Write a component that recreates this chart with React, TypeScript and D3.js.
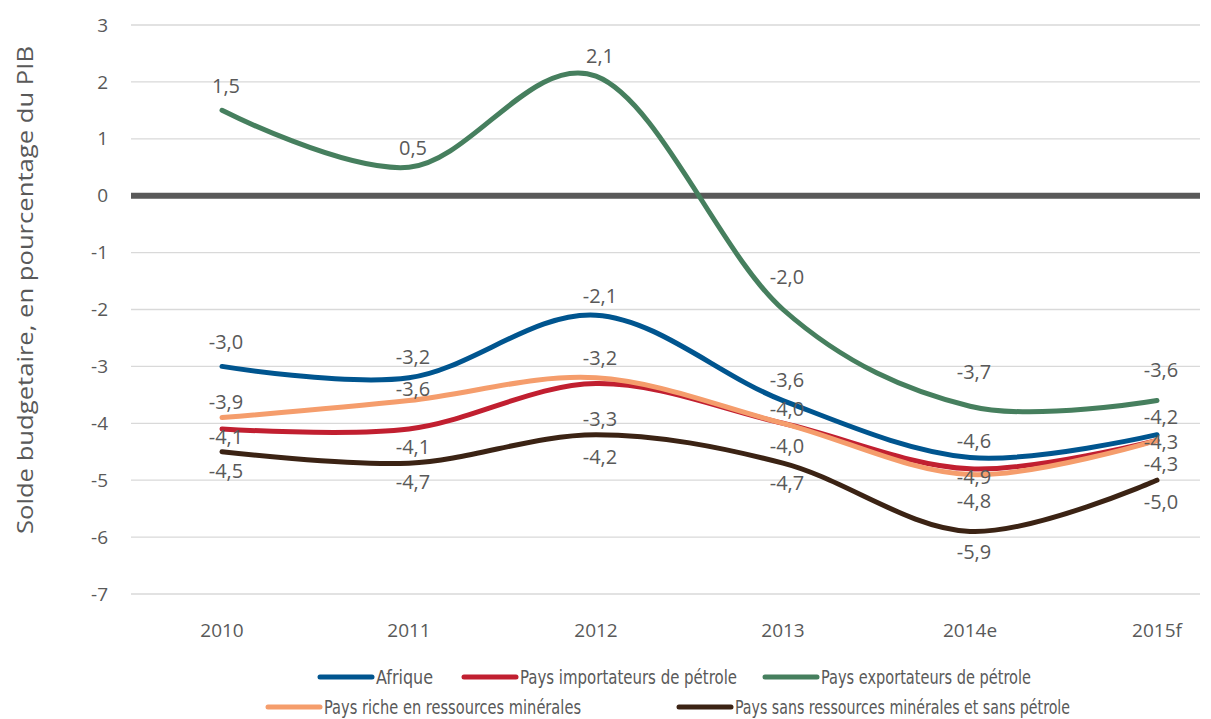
import React from "react";
import * as d3 from "d3";

const years = ["2010", "2011", "2012", "2013", "2014e", "2015f"];
const afrique = [-3.0, -3.2, -2.1, -3.6, -4.6, -4.2];
const importateurs = [-4.1, -4.1, -3.3, -4.0, -4.8, -4.3];
const exportateurs = [1.5, 0.5, 2.1, -2.0, -3.7, -3.6];
const richeMinerales = [-3.9, -3.6, -3.2, -4.0, -4.9, -4.3];
const sansRessources = [-4.5, -4.7, -4.2, -4.7, -5.9, -5.0];
const yTicks = [3, 2, 1, 0, -1, -2, -3, -4, -5, -6, -7];

const W = 1211;
const H = 719;
const grey = "#595959";
const numFont = "'Open Sans', 'Noto Sans', sans-serif";
const narrowFont = "'DejaVu Sans', sans-serif";

// label offsets (px, from the point) so the numbers sit where the original puts them
const series = [
  { name: "Afrique", values: afrique, color: "#00558F", dy: [-24, -21, -19, -21, -16, -18] },
  { name: "Pays importateurs de pétrole", values: importateurs, color: "#C11F30", dy: [8, 18, 36, 23, 32, 24] },
  { name: "Pays exportateurs de pétrole", values: exportateurs, color: "#467F5E", dy: [-24, -19, -20, -33, -34, -31] },
  { name: "Pays riche en ressources minérales", values: richeMinerales, color: "#F59D6C", dy: [-16, -12, -20, -14, 2, 2] },
  { name: "Pays sans ressources minérales et sans pétrole", values: sansRessources, color: "#3B2314", dy: [19, 19, 22, 20, 21, 22] },
];

// legend layout: swatch start, row, text width of the condensed original font
const legendItems = [
  { s: 0, x: 318, y: 677, w: 57 },
  { s: 1, x: 462, y: 677, w: 217 },
  { s: 2, x: 763, y: 677, w: 210 },
  { s: 3, x: 266, y: 707, w: 257 },
  { s: 4, x: 677, y: 707, w: 335 },
];

const fmt = (v: number) => v.toFixed(1).replace(".", ",");

export default function App() {
  const x = d3.scalePoint<string>().domain(years).range([222, 1157]);
  const y = d3.scaleLinear().domain([-7, 3]).range([594, 25]);
  const line = d3
    .line<number>()
    .x((_, i) => x(years[i]) as number)
    .y((d) => y(d))
    .curve(d3.curveCardinal.tension(0));

  return (
    <svg width={W} height={H} style={{ position: "absolute", left: 0, top: 0, background: "#fff" }}>
      {/* grid */}
      {yTicks.map((t) => (
        <g key={t}>
          <line
            x1={131}
            x2={1200}
            y1={y(t)}
            y2={y(t)}
            stroke={t === 0 ? grey : "#d9d9d9"}
            strokeWidth={t === 0 ? 6 : 1.3}
          />
          <text x={108} y={y(t)} dy="0.35em" textAnchor="end" fontFamily={numFont} fontSize={19} fill={grey}>
            {t}
          </text>
        </g>
      ))}

      {/* x axis labels */}
      {years.map((yr) => (
        <text key={yr} x={x(yr)} y={630} dy="0.35em" textAnchor="middle" fontFamily={numFont} fontSize={19} fill={grey}>
          {yr}
        </text>
      ))}

      {/* y title */}
      <text
        transform={`translate(25, 290) rotate(-90)`}
        dy="0.35em"
        textAnchor="middle"
        fontFamily={numFont}
        fontSize={22}
        textLength={488}
        lengthAdjust="spacingAndGlyphs"
        fill={grey}
      >
        Solde budgetaire, en pourcentage du PIB
      </text>

      {/* lines */}
      {series.map((s) => (
        <path
          key={s.name}
          d={line(s.values) || ""}
          fill="none"
          stroke={s.color}
          strokeWidth={5}
          strokeLinecap="round"
        />
      ))}

      {/* value labels */}
      {series.map((s) =>
        s.values.map((v, i) => (
          <text
            key={s.name + i}
            x={(x(years[i]) as number) + 4}
            y={y(v) + s.dy[i]}
            dy="0.35em"
            textAnchor="middle"
            fontFamily={numFont}
            fontSize={20}
            fill={grey}
          >
            {fmt(v)}
          </text>
        ))
      )}

      {/* legend */}
      {legendItems.map((it) => {
        const s = series[it.s];
        return (
          <g key={s.name}>
            <line
              x1={it.x + 2}
              x2={it.x + 54}
              y1={it.y}
              y2={it.y}
              stroke={s.color}
              strokeWidth={5}
              strokeLinecap="round"
            />
            <text
              x={it.x + 58}
              y={it.y}
              dy="0.35em"
              fontFamily={narrowFont}
              fontStretch="condensed"
              fontSize={19}
              textLength={it.w}
              lengthAdjust="spacingAndGlyphs"
              fill={grey}
            >
              {s.name}
            </text>
          </g>
        );
      })}
    </svg>
  );
}
